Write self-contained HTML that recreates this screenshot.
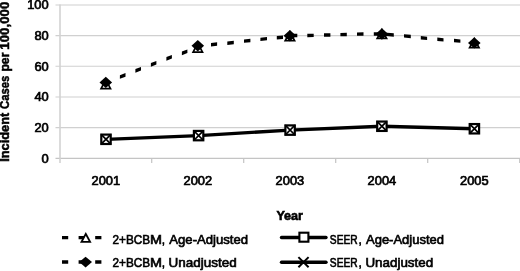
<!DOCTYPE html>
<html><head><meta charset="utf-8"><title>Chart</title>
<style>html,body{margin:0;padding:0;background:#fff;overflow:hidden}body{width:520px;height:271px}svg{will-change:transform}</style></head>
<body>
<svg width="520" height="271" viewBox="0 0 520 271" style="display:block;font-family:'Liberation Sans',sans-serif">
<rect width="520" height="271" fill="#fff"/>
<line x1="55.5" x2="520" y1="127.64" y2="127.64" stroke="#d0d0d0" stroke-width="1.1"/>
<line x1="55.5" x2="520" y1="96.98" y2="96.98" stroke="#d0d0d0" stroke-width="1.1"/>
<line x1="55.5" x2="520" y1="66.32" y2="66.32" stroke="#d0d0d0" stroke-width="1.1"/>
<line x1="55.5" x2="520" y1="35.66" y2="35.66" stroke="#d0d0d0" stroke-width="1.1"/>
<line x1="55.5" x2="520" y1="5.00" y2="5.00" stroke="#d0d0d0" stroke-width="1.1"/>
<line x1="55.5" x2="520" y1="158.30" y2="158.30" stroke="#c4c4c4" stroke-width="1.2"/>
<line x1="60" x2="60" y1="4.5" y2="163.00" stroke="#d2d2d2" stroke-width="1.6"/>
<line x1="151.70" x2="151.70" y1="158.30" y2="163.00" stroke="#c4c4c4" stroke-width="1.2"/>
<line x1="243.70" x2="243.70" y1="158.30" y2="163.00" stroke="#c4c4c4" stroke-width="1.2"/>
<line x1="335.70" x2="335.70" y1="158.30" y2="163.00" stroke="#c4c4c4" stroke-width="1.2"/>
<line x1="427.70" x2="427.70" y1="158.30" y2="163.00" stroke="#c4c4c4" stroke-width="1.2"/>
<line x1="519.70" x2="519.70" y1="158.30" y2="163.00" stroke="#c4c4c4" stroke-width="1.2"/>
<text x="48.7" y="162.70" font-size="12.9" text-anchor="end" fill="#000" stroke="#000" stroke-width="0.7" textLength="7.2" lengthAdjust="spacingAndGlyphs">0</text>
<text x="48.7" y="132.04" font-size="12.9" text-anchor="end" fill="#000" stroke="#000" stroke-width="0.7" textLength="14.3" lengthAdjust="spacingAndGlyphs">20</text>
<text x="48.7" y="101.38" font-size="12.9" text-anchor="end" fill="#000" stroke="#000" stroke-width="0.7" textLength="14.3" lengthAdjust="spacingAndGlyphs">40</text>
<text x="48.7" y="70.72" font-size="12.9" text-anchor="end" fill="#000" stroke="#000" stroke-width="0.7" textLength="14.3" lengthAdjust="spacingAndGlyphs">60</text>
<text x="48.7" y="40.06" font-size="12.9" text-anchor="end" fill="#000" stroke="#000" stroke-width="0.7" textLength="14.3" lengthAdjust="spacingAndGlyphs">80</text>
<text x="48.7" y="9.40" font-size="12.9" text-anchor="end" fill="#000" stroke="#000" stroke-width="0.7" textLength="21.5" lengthAdjust="spacingAndGlyphs">100</text>
<text x="105.80" y="185.4" font-size="12.9" text-anchor="middle" fill="#000" stroke="#000" stroke-width="0.7" textLength="28.6" lengthAdjust="spacingAndGlyphs">2001</text>
<text x="197.80" y="185.4" font-size="12.9" text-anchor="middle" fill="#000" stroke="#000" stroke-width="0.7" textLength="28.6" lengthAdjust="spacingAndGlyphs">2002</text>
<text x="289.90" y="185.4" font-size="12.9" text-anchor="middle" fill="#000" stroke="#000" stroke-width="0.7" textLength="28.6" lengthAdjust="spacingAndGlyphs">2003</text>
<text x="381.90" y="185.4" font-size="12.9" text-anchor="middle" fill="#000" stroke="#000" stroke-width="0.7" textLength="28.6" lengthAdjust="spacingAndGlyphs">2004</text>
<text x="474.30" y="185.4" font-size="12.9" text-anchor="middle" fill="#000" stroke="#000" stroke-width="0.7" textLength="28.6" lengthAdjust="spacingAndGlyphs">2005</text>
<text x="276.4" y="219.6" font-size="13" font-weight="bold" stroke="#000" stroke-width="0.6" textLength="26.6" lengthAdjust="spacingAndGlyphs">Year</text>
<text transform="translate(9.3,161.80) rotate(-90)" font-size="12.4" font-weight="bold" stroke="#000" stroke-width="0.5" textLength="49.00" lengthAdjust="spacingAndGlyphs">Incident</text>
<text transform="translate(9.3,109.00) rotate(-90)" font-size="12.4" font-weight="bold" stroke="#000" stroke-width="0.5" textLength="33.20" lengthAdjust="spacingAndGlyphs">Cases</text>
<text transform="translate(9.3,71.60) rotate(-90)" font-size="12.4" font-weight="bold" stroke="#000" stroke-width="0.5" textLength="19.00" lengthAdjust="spacingAndGlyphs">per</text>
<text transform="translate(9.3,49.70) rotate(-90)" font-size="12.4" font-weight="bold" stroke="#000" stroke-width="0.5" textLength="48.00" lengthAdjust="spacingAndGlyphs">100,000</text>
<path d="M119.90,75.17 L125.50,72.98 L125.50,76.63 L119.90,78.82 Z" fill="#000"/>
<path d="M135.40,69.07 L141.00,66.88 L141.00,70.53 L135.40,72.72 Z" fill="#000"/>
<path d="M150.90,63.05 L156.40,60.90 L156.40,64.55 L150.90,66.70 Z" fill="#000"/>
<path d="M166.40,57.05 L171.90,54.90 L171.90,58.55 L166.40,60.70 Z" fill="#000"/>
<path d="M181.90,51.55 L187.40,49.40 L187.40,53.05 L181.90,55.20 Z" fill="#000"/>
<path d="M211.00,43.02 L217.10,42.36 L217.10,45.78 L211.00,46.44 Z" fill="#000"/>
<path d="M227.30,41.54 L233.80,40.84 L233.80,44.26 L227.30,44.96 Z" fill="#000"/>
<path d="M244.00,39.43 L250.40,38.75 L250.40,42.17 L244.00,42.85 Z" fill="#000"/>
<path d="M260.40,37.64 L267.00,36.94 L267.00,40.36 L260.40,41.06 Z" fill="#000"/>
<path d="M276.80,36.12 L283.00,35.46 L283.00,38.88 L276.80,39.54 Z" fill="#000"/>
<path d="M291.00,33.86 L297.30,33.74 L297.30,37.14 L291.00,37.26 Z" fill="#000"/>
<path d="M307.30,33.76 L313.70,33.64 L313.70,37.04 L307.30,37.16 Z" fill="#000"/>
<path d="M324.00,33.36 L330.40,33.24 L330.40,36.64 L324.00,36.76 Z" fill="#000"/>
<path d="M340.40,32.96 L346.80,32.84 L346.80,36.24 L340.40,36.36 Z" fill="#000"/>
<path d="M357.00,32.46 L363.50,32.33 L363.50,35.74 L357.00,35.87 Z" fill="#000"/>
<path d="M373.80,32.36 L380.00,32.24 L380.00,35.64 L373.80,35.76 Z" fill="#000"/>
<path d="M384.00,32.41 L393.80,33.37 L393.80,36.79 L384.00,35.83 Z" fill="#000"/>
<path d="M404.00,34.16 L410.80,34.83 L410.80,38.24 L404.00,37.57 Z" fill="#000"/>
<path d="M420.80,36.08 L427.10,36.70 L427.10,40.12 L420.80,39.50 Z" fill="#000"/>
<path d="M437.30,37.59 L443.50,38.20 L443.50,41.61 L437.30,41.00 Z" fill="#000"/>
<path d="M454.00,38.78 L460.40,39.41 L460.40,42.82 L454.00,42.19 Z" fill="#000"/>
<path d="M105.80,77.80 L111.90,89.40 L99.70,89.40 Z" fill="#000"/><path d="M105.80,81.45 L109.09,87.70 L102.51,87.70 Z" fill="#fff"/>
<path d="M197.80,41.30 L203.90,52.90 L191.70,52.90 Z" fill="#000"/><path d="M197.80,44.95 L201.09,51.20 L194.51,51.20 Z" fill="#fff"/>
<path d="M289.90,30.00 L296.00,41.60 L283.80,41.60 Z" fill="#000"/><path d="M289.90,33.65 L293.19,39.90 L286.61,39.90 Z" fill="#fff"/>
<path d="M381.90,27.70 L388.00,39.30 L375.80,39.30 Z" fill="#000"/><path d="M381.90,31.35 L385.19,37.60 L378.61,37.60 Z" fill="#fff"/>
<path d="M474.30,36.90 L480.40,48.50 L468.20,48.50 Z" fill="#000"/><path d="M474.30,40.55 L477.59,46.80 L471.01,46.80 Z" fill="#fff"/>
<path d="M105.80,76.70 L112.10,82.40 L105.80,88.10 L99.50,82.40 Z" fill="#000"/>
<path d="M197.80,40.10 L204.10,45.80 L197.80,51.50 L191.50,45.80 Z" fill="#000"/>
<path d="M289.90,30.10 L296.20,35.80 L289.90,41.50 L283.60,35.80 Z" fill="#000"/>
<path d="M381.90,28.30 L388.20,34.00 L381.90,39.70 L375.60,34.00 Z" fill="#000"/>
<path d="M474.30,37.20 L480.60,42.90 L474.30,48.60 L468.00,42.90 Z" fill="#000"/>
<path d="M106.00,139.30 L198.60,135.60 L290.10,130.10 L381.90,126.25 L474.40,128.75" fill="none" stroke="#000" stroke-width="3.3" stroke-linejoin="round"/>
<rect x="101.30" y="134.60" width="9.40" height="9.40" fill="#fff" stroke="#000" stroke-width="2.2"/>
<rect x="193.90" y="130.90" width="9.40" height="9.40" fill="#fff" stroke="#000" stroke-width="2.2"/>
<rect x="285.40" y="125.40" width="9.40" height="9.40" fill="#fff" stroke="#000" stroke-width="2.2"/>
<rect x="377.20" y="121.55" width="9.40" height="9.40" fill="#fff" stroke="#000" stroke-width="2.2"/>
<rect x="469.70" y="124.05" width="9.40" height="9.40" fill="#fff" stroke="#000" stroke-width="2.2"/>
<path d="M101.10,134.40 L110.90,144.20 M101.10,144.20 L110.90,134.40" stroke="#000" stroke-width="1.7" fill="none"/>
<path d="M193.70,130.70 L203.50,140.50 M193.70,140.50 L203.50,130.70" stroke="#000" stroke-width="1.7" fill="none"/>
<path d="M285.20,125.20 L295.00,135.00 M285.20,135.00 L295.00,125.20" stroke="#000" stroke-width="1.7" fill="none"/>
<path d="M377.00,121.35 L386.80,131.15 M377.00,131.15 L386.80,121.35" stroke="#000" stroke-width="1.7" fill="none"/>
<path d="M469.50,123.85 L479.30,133.65 M469.50,133.65 L479.30,123.85" stroke="#000" stroke-width="1.7" fill="none"/>
<line x1="62" x2="110" y1="237.7" y2="237.7" stroke="#000" stroke-width="3.3" stroke-dasharray="6.2 10.4"/>
<path d="M85.80,231.90 L91.60,242.70 L80.00,242.70 Z" fill="#000"/><path d="M85.80,235.70 L88.59,240.90 L83.01,240.90 Z" fill="#fff"/>
<line x1="62" x2="110" y1="262" y2="262" stroke="#000" stroke-width="3.3" stroke-dasharray="6.2 10.4"/>
<path d="M85.60,256.70 L92.00,262.10 L85.60,267.50 L79.20,262.10 Z" fill="#000"/>
<line x1="281.5" x2="326" y1="237.5" y2="237.5" stroke="#000" stroke-width="3.4" stroke-linecap="round"/>
<rect x="299.40" y="232.70" width="9.00" height="9.00" fill="#fff" stroke="#000" stroke-width="2.1"/>
<line x1="281.5" x2="326" y1="262.3" y2="262.3" stroke="#000" stroke-width="3.4" stroke-linecap="round"/>
<path d="M298.40,257.10 L308.60,267.30 M298.40,267.30 L308.60,257.10" stroke="#000" stroke-width="2.0" fill="none"/>
<text x="112.50" y="243.60" font-size="13.2" stroke="#000" stroke-width="0.65" textLength="37.60" lengthAdjust="spacingAndGlyphs">2+BCB</text>
<text x="150.00" y="243.60" font-size="13.2" stroke="#000" stroke-width="0.65" textLength="12.00" lengthAdjust="spacingAndGlyphs">M</text>
<text x="161.80" y="243.60" font-size="13.2" stroke="#000" stroke-width="0.65" textLength="3.30" lengthAdjust="spacingAndGlyphs">,</text>
<text x="329.80" y="243.60" font-size="13.2" stroke="#000" stroke-width="0.65" textLength="27.90" lengthAdjust="spacingAndGlyphs">SEER</text>
<text x="358.50" y="243.60" font-size="13.2" stroke="#000" stroke-width="0.65" textLength="3.30" lengthAdjust="spacingAndGlyphs">,</text>
<text x="112.50" y="267.20" font-size="13.2" stroke="#000" stroke-width="0.65" textLength="37.60" lengthAdjust="spacingAndGlyphs">2+BCB</text>
<text x="150.00" y="267.20" font-size="13.2" stroke="#000" stroke-width="0.65" textLength="12.00" lengthAdjust="spacingAndGlyphs">M</text>
<text x="161.80" y="267.20" font-size="13.2" stroke="#000" stroke-width="0.65" textLength="3.30" lengthAdjust="spacingAndGlyphs">,</text>
<text x="329.80" y="267.20" font-size="13.2" stroke="#000" stroke-width="0.65" textLength="27.90" lengthAdjust="spacingAndGlyphs">SEER</text>
<text x="358.50" y="267.20" font-size="13.2" stroke="#000" stroke-width="0.65" textLength="3.30" lengthAdjust="spacingAndGlyphs">,</text>
<text x="169.30" y="243.60" font-size="13.2" stroke="#000" stroke-width="0.65" textLength="78.80" lengthAdjust="spacingAndGlyphs">Age-Adjusted</text>
<text x="168.60" y="267.20" font-size="13.2" stroke="#000" stroke-width="0.65" textLength="68.20" lengthAdjust="spacingAndGlyphs">Unadjusted</text>
<text x="366.00" y="243.60" font-size="13.2" stroke="#000" stroke-width="0.65" textLength="78.00" lengthAdjust="spacingAndGlyphs">Age-Adjusted</text>
<text x="365.40" y="267.20" font-size="13.2" stroke="#000" stroke-width="0.65" textLength="67.80" lengthAdjust="spacingAndGlyphs">Unadjusted</text>
</svg>
</body></html>
